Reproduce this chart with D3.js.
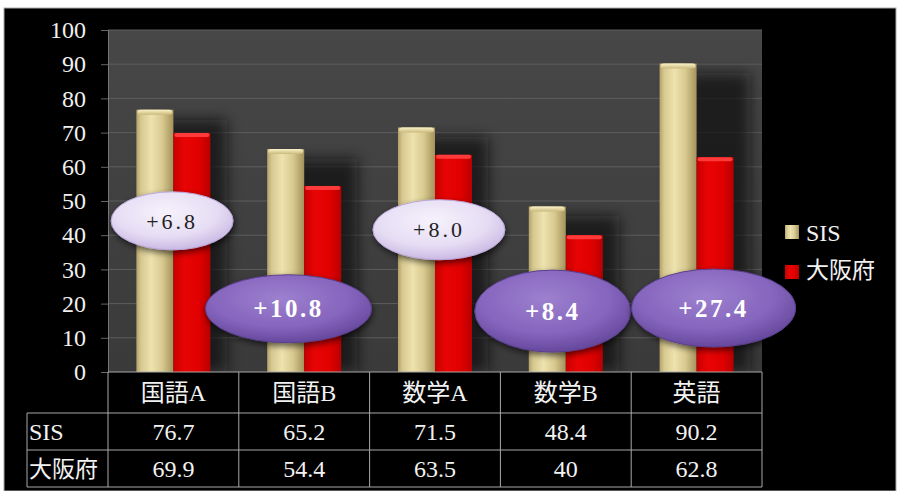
<!DOCTYPE html>
<html lang="ja">
<head>
<meta charset="utf-8">
<script src="https://cdn.jsdelivr.net/npm/d3@7"></script>
<style>
  body { margin: 0; background: #fff; }
  svg { display: block; }
  text { font-family: "Liberation Serif", serif; }
</style>
</head>
<body>
<svg id="chart"></svg>
<script>
// Chart data
const categories = ['国語A', '国語B', '数学A', '数学B', '英語'];
const seriesNames = ['SIS', '大阪府'];
const sisValues = [76.7, 65.2, 71.5, 48.4, 90.2];
const osakaValues = [69.9, 54.4, 63.5, 40, 62.8];
const tableSis = ['76.7', '65.2', '71.5', '48.4', '90.2'];
const tableOsaka = ['69.9', '54.4', '63.5', '40', '62.8'];
const yTicks = [0, 10, 20, 30, 40, 50, 60, 70, 80, 90, 100];

// Layout constants
const CONFIG = {
  width: 898,
  height: 491,
  plot: { left: 108, right: 762, top: 30, bottom: 372 },
  rowHeights: [41, 37, 37],
  rowLabelLeft: 27,
  fontSize: 24,
  font: '"Liberation Serif", serif',
  mixedFont: '"Liberation Serif", "Noto Sans CJK JP", serif',
  cjkFont: '"Noto Sans CJK JP", sans-serif'
};

// Callout placement per category: x offset in band widths, y in data units, radii in px
const CALLOUTS = [
  { dx: -0.01, y: 44.2, rx: 61, ry: 29, light: true },
  { dx: -0.12, y: 18.5, rx: 83, ry: 34, light: false },
  { dx: 0.03, y: 41.6, rx: 66, ry: 30, light: true },
  { dx: -0.10, y: 17.8, rx: 78, ry: 41, light: false },
  { dx: 0.13, y: 18.7, rx: 82, ry: 39, light: false }
];

const svg = d3.select('#chart')
  .attr('width', CONFIG.width)
  .attr('height', CONFIG.height);

const p = CONFIG.plot;

const x = d3.scaleBand()
  .domain(categories)
  .range([p.left, p.right])
  .paddingInner(0)
  .paddingOuter(0);

const y = d3.scaleLinear()
  .domain([0, 100])
  .range([p.bottom, p.top]);

const barW = x.bandwidth() * 0.283;

// Gradients
const defs = svg.append('defs');

const gold = defs.append('linearGradient').attr('id', 'gold').attr('x1', 0).attr('x2', 1).attr('y1', 0).attr('y2', 0);
[[0, '#b3a26a'], [0.12, '#d6c890'], [0.4, '#eee2ae'], [0.7, '#d8c98f'], [1, '#a4935c']]
  .forEach(s => gold.append('stop').attr('offset', s[0]).attr('stop-color', s[1]));

const goldTop = defs.append('linearGradient').attr('id', 'goldTop').attr('x1', 0).attr('x2', 0).attr('y1', 0).attr('y2', 1);
[[0, '#fbf3c8'], [1, '#c9b97c']]
  .forEach(s => goldTop.append('stop').attr('offset', s[0]).attr('stop-color', s[1]));

const red = defs.append('linearGradient').attr('id', 'red').attr('x1', 0).attr('x2', 1).attr('y1', 0).attr('y2', 0);
[[0, '#c80000'], [0.3, '#e80404'], [0.7, '#e00000'], [1, '#b80000']]
  .forEach(s => red.append('stop').attr('offset', s[0]).attr('stop-color', s[1]));

const plotBg = defs.append('linearGradient').attr('id', 'plotBg').attr('x1', 0).attr('x2', 0).attr('y1', 0).attr('y2', 1);
[[0, '#474747'], [1, '#3a3a3a']]
  .forEach(s => plotBg.append('stop').attr('offset', s[0]).attr('stop-color', s[1]));

const lightFill = defs.append('radialGradient').attr('id', 'lightFill').attr('cx', '45%').attr('cy', '35%').attr('r', '70%');
[[0, '#f6f2fc'], [0.6, '#e6ddf4'], [1, '#c4b2e0']]
  .forEach(s => lightFill.append('stop').attr('offset', s[0]).attr('stop-color', s[1]));

const darkFill = defs.append('radialGradient').attr('id', 'darkFill').attr('cx', '45%').attr('cy', '35%').attr('r', '70%');
[[0, '#9d80cf'], [0.6, '#8565bd'], [1, '#5f4296']]
  .forEach(s => darkFill.append('stop').attr('offset', s[0]).attr('stop-color', s[1]));

defs.append('filter').attr('id', 'blur').attr('x', '-50%').attr('width', '200%')
  .append('feGaussianBlur').attr('stdDeviation', 7);

defs.append('filter').attr('id', 'ellShadow').attr('x', '-20%').attr('y', '-20%').attr('width', '140%').attr('height', '150%')
  .append('feDropShadow').attr('dx', 1).attr('dy', 3).attr('stdDeviation', 3).attr('flood-color', '#000').attr('flood-opacity', 0.6);

// Black frame
svg.append('rect')
  .attr('x', 4).attr('y', 8)
  .attr('width', 892).attr('height', CONFIG.height - 8)
  .attr('fill', '#000')
  .attr('stroke', '#aaa')
  .attr('stroke-width', 1);

// Plot area
svg.append('rect')
  .attr('x', p.left).attr('y', p.top)
  .attr('width', p.right - p.left).attr('height', p.bottom - p.top)
  .attr('fill', 'url(#plotBg)');

// Grid lines
svg.append('g')
  .selectAll('line')
  .data(yTicks.filter(d => d > 0))
  .enter().append('line')
  .attr('x1', p.left).attr('x2', p.right)
  .attr('y1', d => y(d)).attr('y2', d => y(d))
  .attr('stroke', '#5e5e5e')
  .attr('stroke-width', 1);

const yAxis = svg.append('g')
  .attr('transform', `translate(${p.left},0)`)
  .call(d3.axisLeft(y).tickValues(yTicks).tickSize(7).tickPadding(15).tickFormat(d3.format('d')));
yAxis.select('.domain').attr('stroke', '#777');
yAxis.selectAll('.tick line').attr('stroke', '#666');
yAxis.selectAll('.tick text')
  .attr('fill', '#f0f0f0')
  .attr('font-family', null)
  .style('font-family', CONFIG.font)
  .style('font-size', '24px');

// Bar shadows
const groups = svg.append('g')
  .selectAll('g')
  .data(categories)
  .enter().append('g');

groups.append('rect')
  .attr('x', d => x(d) + x.bandwidth() / 2 - barW + 12)
  .attr('y', (d, i) => y(Math.max(sisValues[i], osakaValues[i])) + 10)
  .attr('width', barW * 2 + 4)
  .attr('height', (d, i) => p.bottom - y(Math.max(sisValues[i], osakaValues[i])) - 10)
  .attr('fill', '#111')
  .attr('opacity', 0.7)
  .attr('filter', 'url(#blur)');

// SIS bars
groups.append('rect')
  .attr('x', d => x(d) + x.bandwidth() / 2 - barW)
  .attr('y', (d, i) => y(sisValues[i]))
  .attr('width', barW)
  .attr('height', (d, i) => p.bottom - y(sisValues[i]))
  .attr('fill', 'url(#gold)');

groups.append('rect')
  .attr('x', d => x(d) + x.bandwidth() / 2 - barW + 1)
  .attr('y', (d, i) => y(sisValues[i]))
  .attr('width', barW - 2)
  .attr('height', 5)
  .attr('rx', 3)
  .attr('fill', 'url(#goldTop)');

// Osaka bars
groups.append('rect')
  .attr('x', d => x(d) + x.bandwidth() / 2)
  .attr('y', (d, i) => y(osakaValues[i]))
  .attr('width', barW)
  .attr('height', (d, i) => p.bottom - y(osakaValues[i]))
  .attr('fill', 'url(#red)');

groups.append('rect')
  .attr('x', d => x(d) + x.bandwidth() / 2 + 1)
  .attr('y', (d, i) => y(osakaValues[i]))
  .attr('width', barW - 2)
  .attr('height', 4)
  .attr('rx', 2)
  .attr('fill', '#ff3a3a');

// Difference callouts
const callouts = svg.append('g')
  .selectAll('g')
  .data(categories)
  .enter().append('g')
  .attr('transform', (d, i) => {
    const c = CALLOUTS[i];
    return `translate(${x(d) + x.bandwidth() * (0.5 + c.dx)},${y(c.y)})`;
  });

callouts.append('ellipse')
  .attr('rx', (d, i) => CALLOUTS[i].rx)
  .attr('ry', (d, i) => CALLOUTS[i].ry)
  .attr('fill', (d, i) => CALLOUTS[i].light ? 'url(#lightFill)' : 'url(#darkFill)')
  .attr('stroke', (d, i) => CALLOUTS[i].light ? '#b9a6d8' : '#5a3f8c')
  .attr('stroke-width', 1)
  .attr('filter', 'url(#ellShadow)');

callouts.append('text')
  .attr('text-anchor', 'middle')
  .attr('dy', '0.35em')
  .attr('fill', (d, i) => CALLOUTS[i].light ? '#222' : '#fff')
  .style('font-size', (d, i) => CALLOUTS[i].light ? '22px' : '25px')
  .style('font-weight', (d, i) => CALLOUTS[i].light ? 'normal' : 'bold')
  .style('font-family', CONFIG.font)
  .style('letter-spacing', (d, i) => CALLOUTS[i].light ? '3px' : '2.5px')
  .text((d, i) => '+' + (sisValues[i] - osakaValues[i]).toFixed(1));

// Data table
const rowTops = [p.bottom];
CONFIG.rowHeights.forEach((h, i) => rowTops.push(rowTops[i] + h));
const table = svg.append('g');
const lineColor = '#a8a8a8';

// horizontal lines
table.append('line')
  .attr('x1', p.left).attr('x2', p.right)
  .attr('y1', rowTops[0]).attr('y2', rowTops[0])
  .attr('stroke', lineColor);
rowTops.slice(1).forEach(t => {
  table.append('line')
    .attr('x1', CONFIG.rowLabelLeft).attr('x2', p.right)
    .attr('y1', t).attr('y2', t)
    .attr('stroke', lineColor);
});

// vertical lines
categories.forEach(c => {
  table.append('line')
    .attr('x1', x(c)).attr('x2', x(c))
    .attr('y1', rowTops[0]).attr('y2', rowTops[3])
    .attr('stroke', lineColor);
});
table.append('line')
  .attr('x1', p.right).attr('x2', p.right)
  .attr('y1', rowTops[0]).attr('y2', rowTops[3])
  .attr('stroke', lineColor);
table.append('line')
  .attr('x1', CONFIG.rowLabelLeft).attr('x2', CONFIG.rowLabelLeft)
  .attr('y1', rowTops[1]).attr('y2', rowTops[3])
  .attr('stroke', lineColor);

// header row
table.selectAll('.cat')
  .data(categories)
  .enter().append('text')
  .attr('class', 'cat')
  .attr('x', d => x(d) + x.bandwidth() / 2)
  .attr('y', (rowTops[0] + rowTops[1]) / 2)
  .attr('dy', '0.36em')
  .attr('text-anchor', 'middle')
  .attr('fill', '#f2f2f2')
  .style('font-size', CONFIG.fontSize + 'px')
  .style('font-family', CONFIG.mixedFont)
  .text(d => d);

// value rows
[tableSis, tableOsaka].forEach((row, r) => {
  table.selectAll('.v' + r)
    .data(row)
    .enter().append('text')
    .attr('x', (d, i) => x(categories[i]) + x.bandwidth() / 2)
    .attr('y', (rowTops[r + 1] + rowTops[r + 2]) / 2)
    .attr('dy', '0.36em')
    .attr('text-anchor', 'middle')
    .attr('fill', '#f2f2f2')
    .style('font-size', CONFIG.fontSize + 'px')
    .style('font-family', CONFIG.font)
    .text(d => d);

  table.append('text')
    .attr('x', CONFIG.rowLabelLeft + 2)
    .attr('y', (rowTops[r + 1] + rowTops[r + 2]) / 2)
    .attr('dy', '0.36em')
    .attr('fill', '#f2f2f2')
    .style('font-size', (r === 0 ? CONFIG.fontSize : 23) + 'px')
    .style('font-family', r === 0 ? CONFIG.font : CONFIG.cjkFont)
    .text(seriesNames[r]);
});

// Legend
const legend = svg.append('g')
  .selectAll('g')
  .data(seriesNames)
  .enter().append('g')
  .attr('transform', (d, i) => `translate(785,${232 + i * 38})`);

legend.append('rect')
  .attr('x', 0).attr('y', (d, i) => i === 0 ? -7 : -5)
  .attr('width', 14).attr('height', 14)
  .attr('fill', (d, i) => i === 0 ? 'url(#gold)' : 'url(#red)');

legend.append('text')
  .attr('x', 21)
  .attr('dy', '0.36em')
  .attr('fill', '#f2f2f2')
  .style('font-size', (d, i) => i === 0 ? '24px' : '23px')
  .style('font-family', (d, i) => i === 0 ? CONFIG.font : CONFIG.cjkFont)
  .text(d => d);
</script>
</body>
</html>
